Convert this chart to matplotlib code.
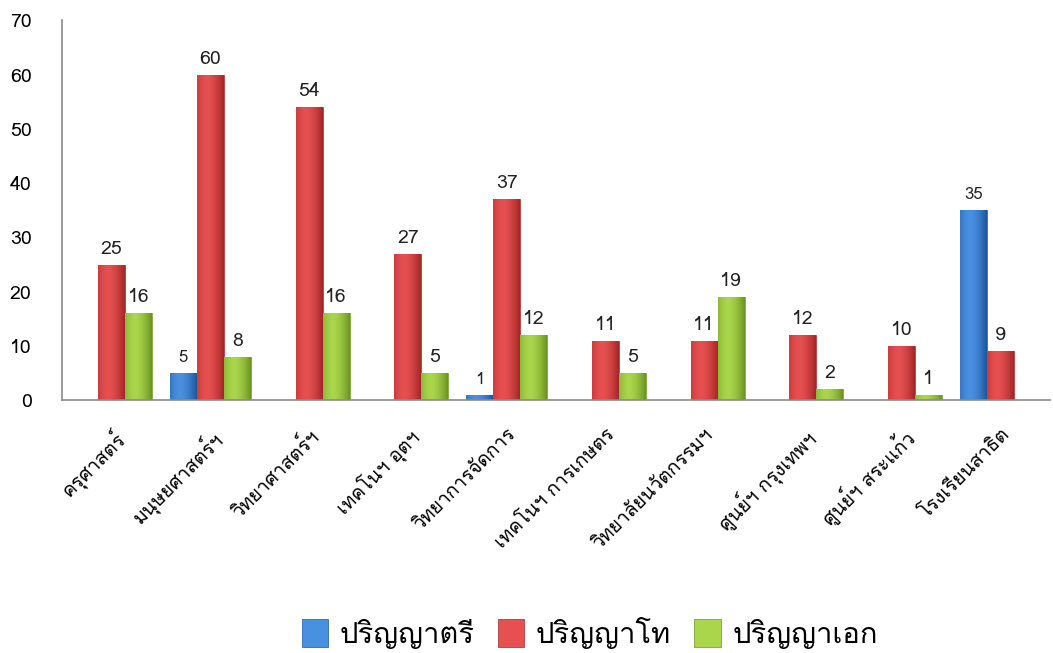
import matplotlib
matplotlib.use('Agg')
import matplotlib.pyplot as plt
from matplotlib import font_manager
from matplotlib.ft2font import FT2Font
from matplotlib.colors import LinearSegmentedColormap
import numpy as np

# data
faculties = ['ครุศาสตร์', 'มนุษยศาสตร์ฯ', 'วิทยาศาสตร์ฯ', 'เทคโนฯ อุตฯ', 'วิทยาการจัดการ',
             'เทคโนฯ การเกษตร', 'วิทยาลัยนวัตกรรมฯ', 'ศูนย์ฯ กรุงเทพฯ', 'ศูนย์ฯ สระแก้ว', 'โรงเรียนสาธิต']
bachelor = [0, 5, 0, 0, 1, 0, 0, 0, 0, 35]
master = [25, 60, 54, 27, 37, 11, 11, 12, 10, 9]
doctorate = [16, 8, 16, 5, 12, 5, 19, 2, 1, 0]
series_names = ['ปริญญาตรี', 'ปริญญาโท', 'ปริญญาเอก']
y_ticks = [0, 10, 20, 30, 40, 50, 60, 70]


def find_thai_font():
    # pick an installed family that has Thai glyphs, regular weight if possible
    found = []
    for f in font_manager.fontManager.ttflist:
        try:
            cmap = FT2Font(f.fname).get_charmap()
        except Exception:
            continue
        if ord('ก') in cmap and ord('ญ') in cmap:
            found.append(f)
    if not found:
        return None
    found.sort(key=lambda f: (abs(int(f.weight) - 400) if str(f.weight).isdigit() else 500, f.style != 'normal'))
    return found[0].name


thai = find_thai_font()
families = ([thai] if thai else []) + ['DejaVu Sans']
plt.rcParams['font.family'] = families

# (edge, centre) shades to fake the glossy cylinder look
shades = [('#1d559e', '#4a90e0'), ('#a52626', '#e65050'), ('#6a9520', '#aad64c')]

fig = plt.figure(figsize=(10.53, 6.53), dpi=100)
ax = fig.add_axes([0.059, 0.387, 0.938, 0.582])

x = np.arange(len(faculties))
w = 0.273
grad = np.abs(np.linspace(-1, 1, 64) + 0.25)
grad = np.clip(grad / grad.max(), 0, 1)
grad = 1 - grad ** 1.6
for i, (vals, sh, name) in enumerate(zip([bachelor, master, doctorate], shades, series_names)):
    pos = x + (i - 1) * w
    bars = ax.bar(pos, vals, width=w, color=sh[1], edgecolor=sh[0], linewidth=0.5, label=name)
    cmap = LinearSegmentedColormap.from_list('s%d' % i, [sh[0], sh[1]])
    for b, v in zip(bars, vals):
        if v == 0:
            continue
        im = ax.imshow(grad[np.newaxis, :], cmap=cmap, aspect='auto', vmin=0, vmax=1,
                       extent=[b.get_x(), b.get_x() + b.get_width(), 0, v], zorder=b.get_zorder())
        im.set_clip_path(b)
        fs = 12 if i == 0 else 14
        ax.annotate(str(v), (b.get_x() + b.get_width() / 2, v), xytext=(0, 5),
                    textcoords='offset points', ha='center', va='bottom', fontsize=fs, color='#222222')

ax.set_xlim(-0.5, len(faculties) - 0.5)
ax.set_ylim(0, 70)
ax.set_yticks(y_ticks)
ax.tick_params(axis='y', length=0, labelsize=14, pad=22)
ax.set_xticks(x)
ax.set_xticklabels(faculties, rotation=45, ha='right', rotation_mode='anchor', fontsize=14)
ax.tick_params(axis='x', length=0, pad=18)
for s in ['top', 'right']:
    ax.spines[s].set_visible(False)
for s in ['left', 'bottom']:
    ax.spines[s].set_color('#8a8a8a')
    ax.spines[s].set_linewidth(1.2)
    ax.spines[s].set_zorder(5)

fig.legend(loc='center', bbox_to_anchor=(0.56, 0.03), ncol=3, frameon=False,
           fontsize=21, handlelength=0.9, handleheight=1.1, handletextpad=0.4, columnspacing=0.8)

fig.savefig('out.png', dpi=100)
